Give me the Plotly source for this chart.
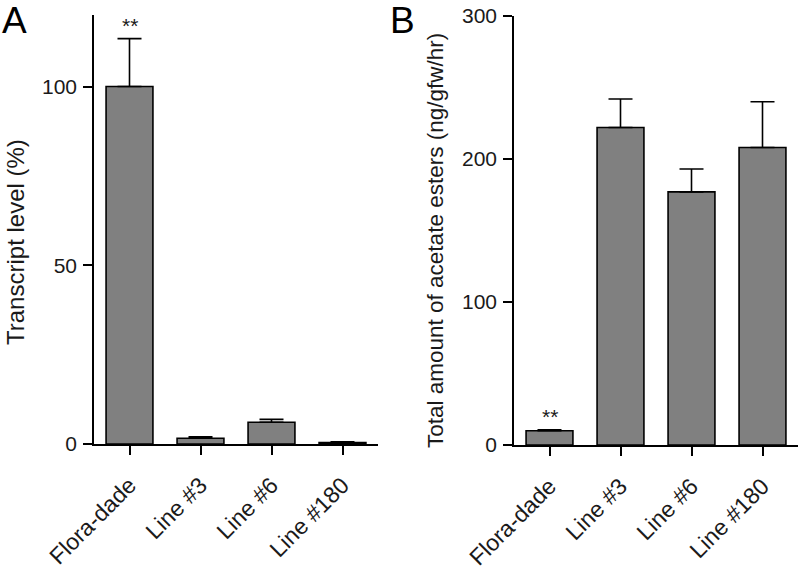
import plotly.graph_objects as go

categories = ["Flora-dade", "Line #3", "Line #6", "Line #180"]

transcript_mean = [100, 1.6, 6.1, 0.4]
transcript_err = [13.4, 0.4, 0.8, 0.2]

esters_mean = [10, 222, 177, 208]
esters_err = [0.6, 20, 16, 32]

a_ticks = [0, 50, 100]
b_ticks = [0, 100, 200, 300]

W, H = 799, 572
FONT = "Arial, Liberation Sans, Helvetica, sans-serif"
TXT = "#1a1a1a"


def px_x(p):
    return p / W


def px_y(p):
    return 1 - p / H


fig = go.Figure()

bar_style = dict(
    marker=dict(color="#808080", line=dict(color="black", width=1.6)),
    width=0.66,
    showlegend=False,
    hoverinfo="skip",
)

fig.add_trace(go.Bar(
    x=categories, y=transcript_mean,
    error_y=dict(type="data", array=transcript_err, arrayminus=[0] * 4,
                 symmetric=False, color="black", thickness=1.6, width=12),
    xaxis="x", yaxis="y", **bar_style))

fig.add_trace(go.Bar(
    x=categories, y=esters_mean,
    error_y=dict(type="data", array=esters_err, arrayminus=[0] * 4,
                 symmetric=False, color="black", thickness=1.6, width=12),
    xaxis="x2", yaxis="y2", **bar_style))

axis_common = dict(
    showline=True, linecolor="black", linewidth=1.6,
    ticks="outside", ticklen=9, tickwidth=1.6, tickcolor="black",
    showgrid=False, zeroline=False, automargin=False,
)
xfont = dict(family=FONT, size=23, color=TXT)
yfont = dict(family=FONT, size=21, color=TXT)

fig.update_layout(
    template="none",
    width=W, height=H,
    margin=dict(l=0, r=0, t=0, b=0, pad=0),
    paper_bgcolor="white", plot_bgcolor="white",
    xaxis=dict(domain=[px_x(94), px_x(378)], range=[-0.5, 3.5], anchor="y",
               tickangle=-45, type="category", tickfont=xfont,
               ticklabelstandoff=8, **axis_common),
    yaxis=dict(domain=[px_y(444), px_y(15)], range=[0, 120], anchor="x",
               tickvals=a_ticks, tickfont=yfont, ticklabelstandoff=2,
               **axis_common),
    xaxis2=dict(domain=[px_x(514), px_x(798)], range=[-0.5, 3.5], anchor="y2",
                tickangle=-45, type="category", tickfont=xfont,
                ticklabelstandoff=8, **axis_common),
    yaxis2=dict(domain=[px_y(445), px_y(16)], range=[0, 300], anchor="x2",
                tickvals=b_ticks, tickfont=yfont, ticklabelstandoff=2,
                **axis_common),
)

annotations = [
    dict(text="A", x=px_x(14), y=px_y(21), xref="paper", yref="paper",
         showarrow=False, font=dict(family=FONT, size=37, color="black"),
         xanchor="center", yanchor="middle"),
    dict(text="B", x=px_x(402), y=px_y(21), xref="paper", yref="paper",
         showarrow=False, font=dict(family=FONT, size=37, color="black"),
         xanchor="center", yanchor="middle"),
    dict(text="Transcript level (%)", x=px_x(15), y=px_y(242),
         xref="paper", yref="paper", textangle=-90, showarrow=False,
         font=dict(family=FONT, size=24, color=TXT),
         xanchor="center", yanchor="middle"),
    dict(text="Total amount of acetate esters (ng/gfw/hr)", x=px_x(435),
         y=px_y(241), xref="paper", yref="paper", textangle=-90,
         showarrow=False, font=dict(family=FONT, size=22.5, color=TXT),
         xanchor="center", yanchor="middle"),
    dict(text="**", x=categories[0], y=transcript_mean[0] + transcript_err[0],
         xref="x", yref="y", showarrow=False, yanchor="bottom",
         font=dict(family=FONT, size=21, color=TXT)),
    dict(text="**", x=categories[0], y=esters_mean[0] + esters_err[0],
         xref="x2", yref="y2", showarrow=False, yanchor="bottom",
         font=dict(family=FONT, size=21, color=TXT)),
]
fig.update_layout(annotations=annotations)

fig.write_html("out.html",
               config={"displayModeBar": False},
               post_script="document.body.style.margin='0';"
                           "document.body.style.overflow='hidden';")
